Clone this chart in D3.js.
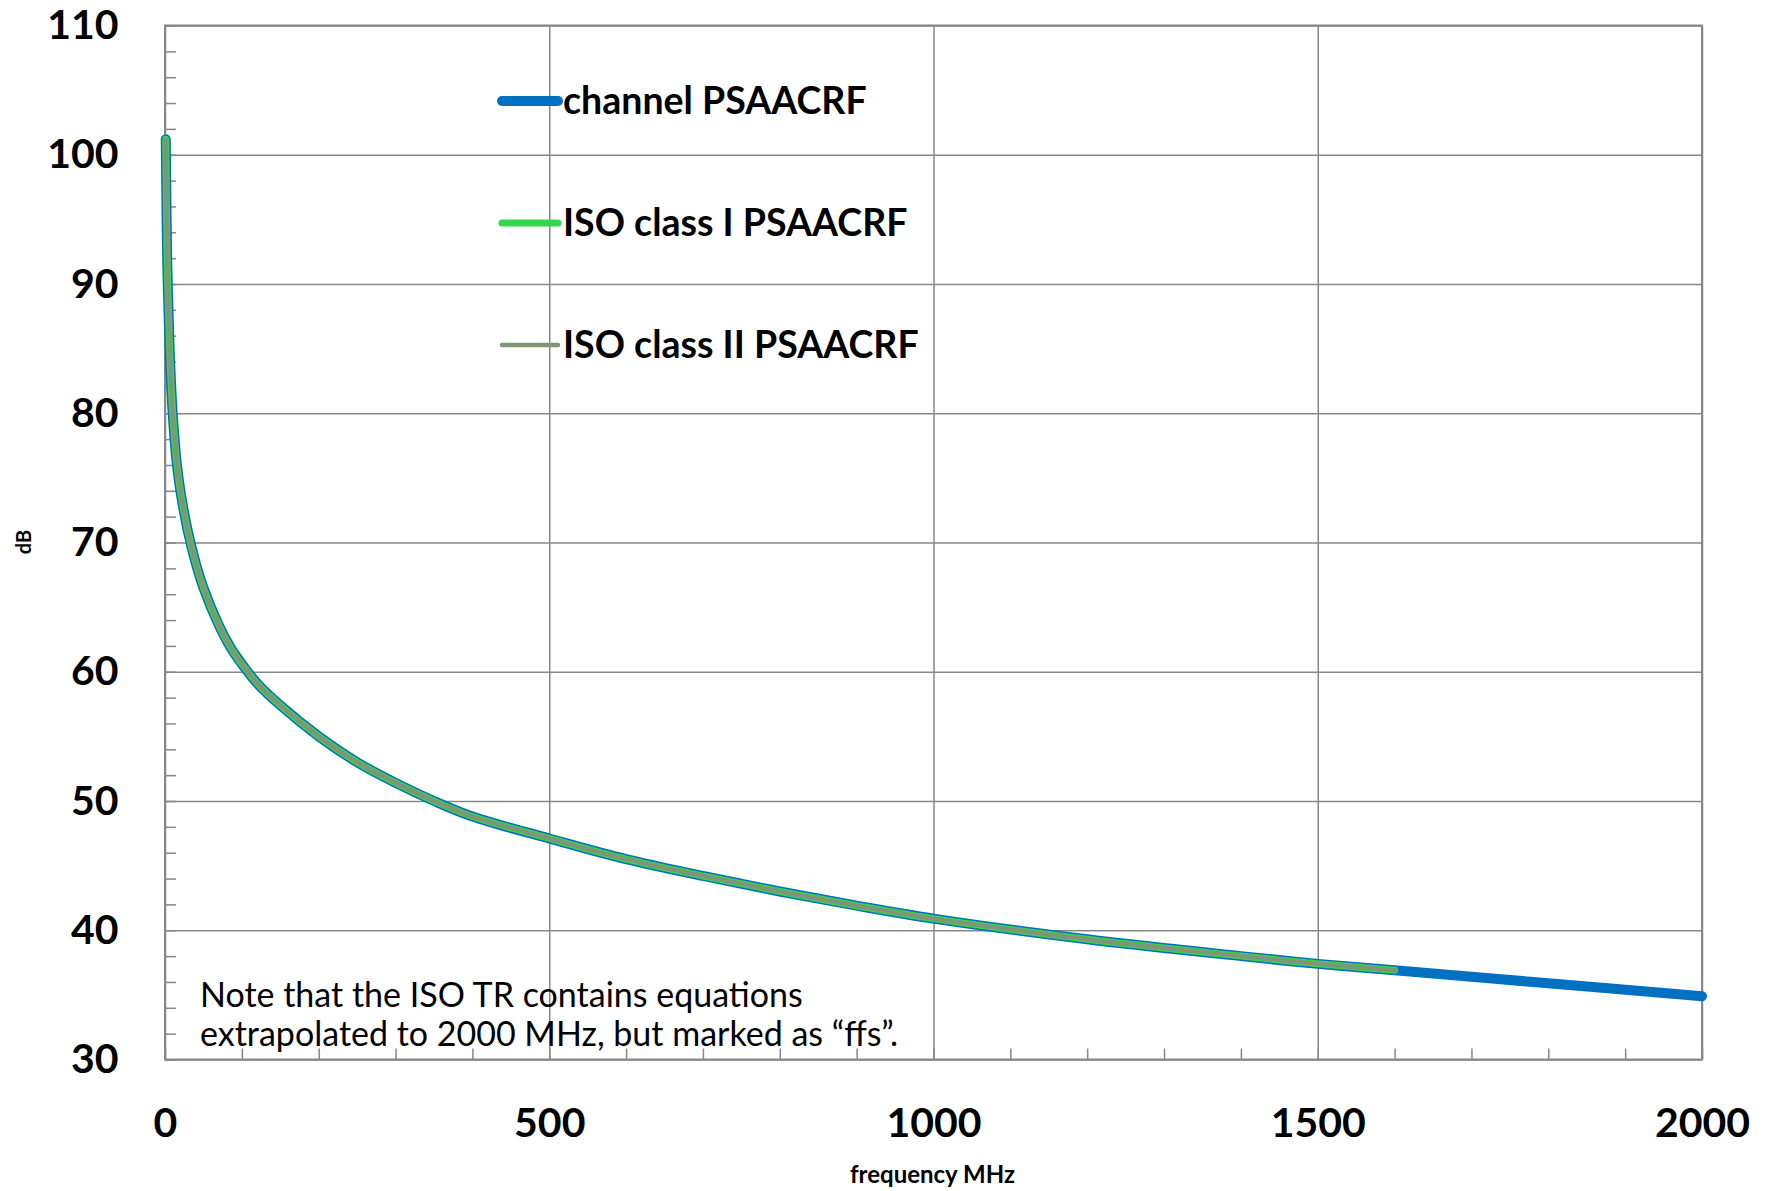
<!DOCTYPE html>
<html>
<head>
<meta charset="utf-8">
<script src="https://cdn.jsdelivr.net/npm/d3@7"></script>
<style>
  body { margin: 0; background: #fff; }
  svg { display: block; font-family: Lato, "Open Sans", sans-serif; }
</style>
</head>
<body>
<div class="canvas"></div>
<script>
// canvas size and margins (plot box from the reference)
const width = 1772;
const height = 1191;
const marginTop = 25.5;
const marginRight = 70;
const marginBottom = 131.5;
const marginLeft = 165;

// frequency points (MHz)
const freq = [1, 2, 3, 5, 7, 10, 15, 20, 30, 40, 50, 70, 85, 100, 120, 150, 200, 250, 300, 350, 400,
              500, 600, 700, 800, 900, 1000, 1200, 1400, 1500, 1600, 1800, 2000];
// channel PSAACRF, dB
const channelDb = [101.2, 95.5, 91.5, 87, 83.5, 80, 76.3, 74, 70.8, 68.4, 66.5, 63.6, 61.9, 60.6, 59.1, 57.4, 55, 53, 51.4, 50, 48.8,
                   47.1, 45.5, 44.2, 43, 41.9, 40.9, 39.3, 38, 37.4, 36.9, 35.9, 34.9];
// ISO class I / II PSAACRF, dB (stop at 1600 MHz)
const isoClass1Db = [101.2, 95.5, 91.5, 87, 83.5, 80, 76.3, 74, 70.8, 68.4, 66.5, 63.6, 61.9, 60.6, 59.1, 57.4, 55, 53, 51.4, 50, 48.8,
                     47.1, 45.5, 44.2, 43, 41.9, 40.9, 39.3, 38, 37.4, 36.9];
const isoClass2Db = [101.2, 95.5, 91.5, 87, 83.5, 80, 76.3, 74, 70.8, 68.4, 66.5, 63.6, 61.9, 60.6, 59.1, 57.4, 55, 53, 51.4, 50, 48.8,
                     47.1, 45.5, 44.2, 43, 41.9, 40.9, 39.3, 38, 37.4, 36.9];

const xTicks = [0, 500, 1000, 1500, 2000];
const yTicks = [30, 40, 50, 60, 70, 80, 90, 100, 110];
const seriesNames = ["channel PSAACRF", "ISO class I PSAACRF", "ISO class II PSAACRF"];
const noteLines = ["Note that the ISO TR contains equations", "extrapolated to 2000 MHz, but marked as \u201cffs\u201d."];

const gridColor = "#878787";

const series = [
  { name: seriesNames[0], values: channelDb, color: "#0070c0", w: 10 },
  { name: seriesNames[1], values: isoClass1Db, color: "#35d64a", w: 7 },
  { name: seriesNames[2], values: isoClass2Db, color: "#7f9676", w: 4.5 }
];

const x = d3.scaleLinear()
  .domain([0, 2000])
  .range([marginLeft, width - marginRight]);

const y = d3.scaleLinear()
  .domain([30, 110])
  .range([height - marginBottom, marginTop]);

const svg = d3.select(".canvas").append("svg")
  .attr("width", width)
  .attr("height", height);

// gridlines
svg.append("g")
  .attr("transform", `translate(${marginLeft},0)`)
  .call(d3.axisLeft(y).tickValues(yTicks).tickSize(-(width - marginLeft - marginRight)).tickFormat(""))
  .call(g => g.select(".domain").remove())
  .call(g => g.selectAll("line").attr("stroke", gridColor).attr("stroke-width", 1.5));

svg.append("g")
  .attr("transform", `translate(0,${height - marginBottom})`)
  .call(d3.axisBottom(x).tickValues(xTicks).tickSize(-(height - marginTop - marginBottom)).tickFormat(""))
  .call(g => g.select(".domain").remove())
  .call(g => g.selectAll("line").attr("stroke", gridColor).attr("stroke-width", 1.5));

// minor ticks, pointing inward
svg.append("g")
  .attr("transform", `translate(${marginLeft},0)`)
  .call(d3.axisLeft(y).tickValues(d3.range(30, 110.1, 2)).tickSize(-11).tickFormat(""))
  .call(g => g.select(".domain").remove())
  .call(g => g.selectAll("line").attr("stroke", gridColor).attr("stroke-width", 1.5));

svg.append("g")
  .attr("transform", `translate(0,${height - marginBottom})`)
  .call(d3.axisBottom(x).tickValues(d3.range(0, 2001, 100)).tickSize(-11).tickFormat(""))
  .call(g => g.select(".domain").remove())
  .call(g => g.selectAll("line").attr("stroke", gridColor).attr("stroke-width", 1.5));

// plot border
svg.append("rect")
  .attr("x", marginLeft)
  .attr("y", marginTop)
  .attr("width", width - marginLeft - marginRight)
  .attr("height", height - marginTop - marginBottom)
  .attr("fill", "none")
  .attr("stroke", gridColor)
  .attr("stroke-width", 2);

// tick labels
svg.append("g")
  .attr("transform", `translate(${marginLeft},0)`)
  .call(d3.axisLeft(y).tickValues(yTicks).tickSize(0).tickPadding(46.5))
  .call(g => g.select(".domain").remove())
  .call(g => g.selectAll("text")
    .attr("font-family", "Lato, sans-serif")
    .attr("font-size", 41).attr("font-weight", "bold").attr("fill", "#000"));

svg.append("g")
  .attr("transform", `translate(0,${height - marginBottom})`)
  .call(d3.axisBottom(x).tickValues(xTicks).tickFormat(d3.format("d")).tickSize(0).tickPadding(48.5))
  .call(g => g.select(".domain").remove())
  .call(g => g.selectAll("text")
    .attr("font-family", "Lato, sans-serif")
    .attr("font-size", 41).attr("font-weight", "bold").attr("fill", "#000"));

// axis titles
svg.append("text")
  .attr("x", x(1000) - 1)
  .attr("y", 1183)
  .attr("text-anchor", "middle")
  .attr("font-size", 24)
  .attr("font-weight", "bold")
  .text("frequency MHz");

svg.append("text")
  .attr("transform", "translate(31,542) rotate(-90)")
  .attr("text-anchor", "middle")
  .attr("font-size", 20)
  .attr("font-weight", "bold")
  .text("dB");

// curves
const line = d3.line()
  .x((d, i) => x(freq[i]))
  .y(d => y(d))
  .curve(d3.curveCatmullRom.alpha(0.5));

svg.selectAll(".curve")
  .data(series)
  .join("path")
    .attr("class", "curve")
    .attr("d", d => line(d.values))
    .attr("fill", "none")
    .attr("stroke", d => d.color)
    .attr("stroke-width", d => d.w)
    .attr("stroke-linecap", "round")
    .attr("stroke-linejoin", "round");

// legend
const legend = svg.append("g").attr("transform", "translate(502,101)");

const items = legend.selectAll("g")
  .data(series)
  .join("g")
    .attr("transform", (d, i) => `translate(0,${i * 122})`);

items.append("line")
  .attr("x1", 0)
  .attr("x2", 56)
  .attr("stroke", d => d.color)
  .attr("stroke-width", d => d.w)
  .attr("stroke-linecap", "round");

items.append("text")
  .attr("x", 61)
  .attr("y", 13)
  .attr("font-size", 37.5)
  .attr("font-weight", "bold")
  .text(d => d.name);

// note
svg.append("g")
  .selectAll("text")
  .data(noteLines)
  .join("text")
    .attr("x", 200)
    .attr("y", (d, i) => 1006.5 + i * 39)
    .attr("font-size", 34)
    .text(d => d);
</script>
</body>
</html>
